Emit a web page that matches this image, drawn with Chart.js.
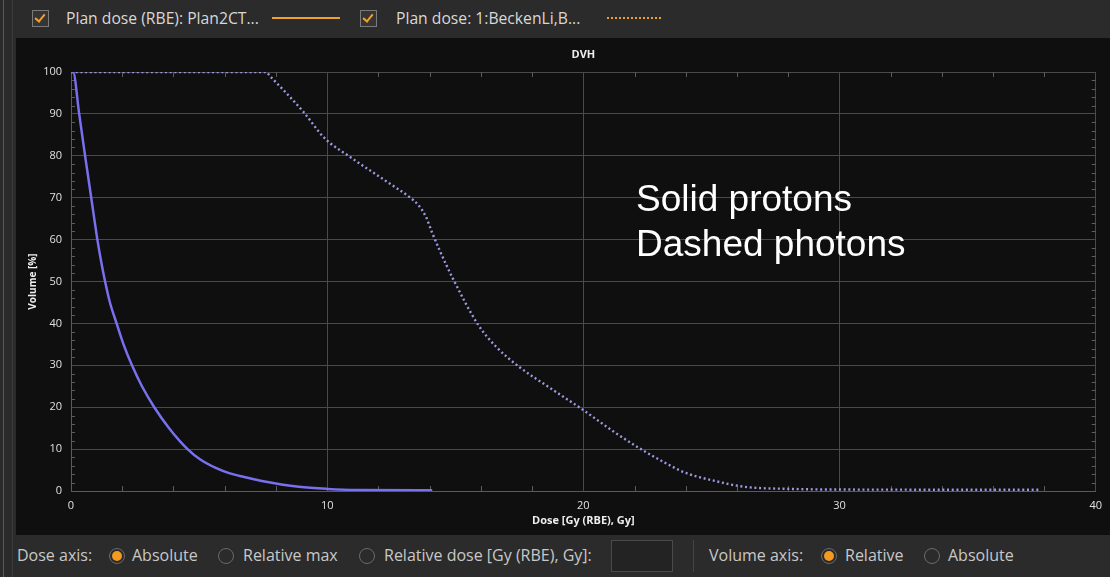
<!DOCTYPE html>
<html>
<head>
<meta charset="utf-8">
<script src="https://cdn.jsdelivr.net/npm/chart.js@4"></script>
<style>
  body { margin: 0; width: 1110px; height: 577px; overflow: hidden; position: relative;
         background: #2b2b2b; font-family: "Open Sans", sans-serif; }
  .abs { position: absolute; }
  .strip1 { left: 3px; top: 0; width: 1px; height: 577px; background: #5a5a5a; }
  .strip2 { left: 12px; top: 0; width: 1px; height: 577px; background: #3c3c3c; }
  #panel { left: 16px; top: 38px; width: 1094px; height: 497px; background: #0f0f0f; }
  .lbl { color: #d8d8d8; font-size: 15.7px; white-space: nowrap; }
  .blbl { color: #c8c8c8; font-size: 16px; white-space: nowrap; }
  .chk { width: 15px; height: 15px; border: 1px solid #7a7a7a; background: #353535; }
  .chk::after { content: ""; position: absolute; left: 4px; top: 1px; width: 4px; height: 8px;
                border: solid #f0a030; border-width: 0 2px 2px 0; transform: rotate(40deg); }
  .radio { width: 14px; height: 14px; border: 1px solid #6a6a6a; border-radius: 50%; background: #2b2b2b; }
  .radio.on::after { content: ""; position: absolute; left: 2px; top: 2px; width: 10px; height: 10px;
                     border-radius: 50%; background: #f39a1e; }
  #note { left: 636px; top: 176px; color: #fff; font-family: "Liberation Sans", Arial, sans-serif;
          font-size: 37px; line-height: 45px; white-space: nowrap; }
</style>
</head>
<body>
<div class="abs strip1"></div>
<div class="abs strip2"></div>

<!-- barra superior -->
<div class="abs chk" style="left:32px;top:10px"></div>
<div class="abs lbl" id="leg1" style="left:66px;top:7px"></div>
<div class="abs" style="left:272px;top:17px;width:68px;height:2px;background:#f0a030"></div>
<div class="abs chk" style="left:360px;top:10px"></div>
<div class="abs lbl" id="leg2" style="left:396px;top:7px"></div>
<div class="abs" style="left:607px;top:17px;width:54px;height:0;border-top:2px dotted #f0a030"></div>

<div class="abs" id="panel"><canvas id="dvh" width="1094" height="497"></canvas></div>
<div class="abs" id="note">Solid protons<br>Dashed photons</div>

<!-- barra inferior -->
<div class="abs blbl" style="left:17px;top:544px">Dose axis:</div>
<div class="abs radio on" style="left:109px;top:548px"></div>
<div class="abs blbl" style="left:132px;top:544px">Absolute</div>
<div class="abs radio" style="left:218px;top:548px"></div>
<div class="abs blbl" style="left:243px;top:544px">Relative max</div>
<div class="abs radio" style="left:359px;top:548px"></div>
<div class="abs blbl" style="left:384px;top:544px">Relative dose [Gy (RBE), Gy]:</div>
<div class="abs" style="left:611px;top:540px;width:60px;height:30px;background:#232323;border:1px solid #4a4a4a"></div>
<div class="abs" style="left:693px;top:540px;width:1px;height:32px;background:#444"></div>
<div class="abs blbl" style="left:709px;top:544px">Volume axis:</div>
<div class="abs radio on" style="left:821px;top:548px"></div>
<div class="abs blbl" style="left:845px;top:544px">Relative</div>
<div class="abs radio" style="left:924px;top:548px"></div>
<div class="abs blbl" style="left:948px;top:544px">Absolute</div>

<script>
// Nombres de las series
const seriesNames = ["Plan dose (RBE): Plan2CT...", "Plan dose: 1:BeckenLi,B..."];

// Protones (línea continua): dosis [Gy] y volumen [%]
const protonDose   = [0, 0.08, 0.32, 0.55, 0.79, 1.03, 1.17, 1.33, 1.52, 1.78, 2.05, 2.38, 2.77, 3.25, 3.83, 4.55, 5.05, 5.65, 6.2, 6.8, 7.45, 8.9, 10, 11.2, 14.1];
const protonVolume = [100, 100, 90, 80, 70, 60, 55, 50, 45, 40, 35, 30, 25, 20, 15, 10, 7.5, 5.5, 4.2, 3.3, 2.4, 1.0, 0.5, 0.25, 0.2];

// Fotones (línea punteada)
const photonDose   = [0, 7.6, 7.8, 9.07, 9.9, 10.9, 12.36, 13.2, 13.55, 13.85, 14.1, 14.4, 14.9, 15.9, 16.6, 17.5, 18.7, 20.0, 21.2, 22.3, 23.2, 24.0, 25.0, 26.3, 28.1, 30, 37.8];
const photonVolume = [100, 100, 98.8, 90.5, 84.2, 79.7, 73.7, 70.2, 68.3, 65.5, 61.6, 57.3, 50.8, 39.6, 34.4, 29.6, 24.6, 19.3, 14.1, 9.8, 6.7, 4.3, 2.6, 1.0, 0.5, 0.35, 0.3];

document.getElementById("leg1").textContent = seriesNames[0];
document.getElementById("leg2").textContent = seriesNames[1];

const toPoints = (xs, ys) => xs.map((x, i) => ({ x: x, y: ys[i] }));

// marcas menores dentro del área del gráfico
const minorTicks = {
  id: "minorTicks",
  beforeDatasetsDraw(chart) {
    const { ctx, chartArea: a, scales } = chart;
    ctx.save();
    ctx.strokeStyle = "#5c5c5c";
    ctx.lineWidth = 1;
    ctx.beginPath();
    scales.x.ticks.forEach(t => {
      if (t.value % 10 === 0) return;
      const px = Math.round(scales.x.getPixelForValue(t.value)) + 0.5;
      ctx.moveTo(px, a.bottom); ctx.lineTo(px, a.bottom - 5);
      ctx.moveTo(px, a.top); ctx.lineTo(px, a.top + 5);
    });
    scales.y.ticks.forEach(t => {
      if (t.value % 10 === 0) return;
      const py = Math.round(scales.y.getPixelForValue(t.value)) + 0.5;
      ctx.moveTo(a.left, py); ctx.lineTo(a.left + 4, py);
      ctx.moveTo(a.right, py); ctx.lineTo(a.right - 4, py);
    });
    ctx.stroke();
    ctx.restore();
  }
};

const tickFont = { family: "Open Sans", size: 11 };

new Chart(document.getElementById("dvh").getContext("2d"), {
  type: "line",
  data: {
    datasets: [{
      label: seriesNames[0],
      data: toPoints(protonDose, protonVolume),
      borderColor: "#7870ee",
      borderWidth: 2.5,
      pointRadius: 0,
      cubicInterpolationMode: "monotone"
    }, {
      label: seriesNames[1],
      data: toPoints(photonDose, photonVolume),
      borderColor: "#9a9ae0",
      borderWidth: 2.4,
      borderDash: [2, 2.7],
      pointRadius: 0,
      cubicInterpolationMode: "monotone"
    }]
  },
  options: {
    responsive: false,
    animation: false,
    devicePixelRatio: 1,
    layout: { padding: { left: 0, right: 7, top: 0, bottom: 0 } },
    plugins: {
      legend: { display: false },
      tooltip: { enabled: false },
      title: {
        display: true,
        text: "DVH",
        fullSize: false,
        color: "#eeeeee",
        font: { family: "Open Sans", size: 11, weight: "bold" },
        padding: { top: 10, bottom: 10.8 }
      }
    },
    scales: {
      x: {
        type: "linear",
        min: 0, max: 40,
        afterFit: s => { s.height = 44; },
        ticks: {
          stepSize: 2, autoSkip: false, maxRotation: 0,
          callback: v => (v % 10 === 0 ? v : ""),
          color: "#e0e0e0", font: tickFont, padding: 8
        },
        grid: { color: c => (c.tick && c.tick.value % 10 === 0 ? "#4a4a4a" : "transparent"), drawTicks: false },
        border: { color: "#5a5a5a" },
        title: {
          display: true, text: "Dose [Gy (RBE), Gy]", color: "#eeeeee",
          font: { family: "Open Sans", size: 11, weight: "bold" },
          padding: { top: 0, bottom: 8 }
        }
      },
      y: {
        min: 0, max: 100,
        afterFit: s => { s.width = 55; },
        ticks: {
          stepSize: 2, autoSkip: false,
          callback: v => (v % 10 === 0 ? v : ""),
          color: "#e0e0e0", font: tickFont, padding: 9
        },
        grid: { color: c => (c.tick && c.tick.value % 10 === 0 ? "#4a4a4a" : "transparent"), drawTicks: false },
        border: { color: "#5a5a5a" },
        title: {
          display: true, text: "Volume [%]", color: "#eeeeee",
          font: { family: "Open Sans", size: 10, weight: "bold" },
          padding: { top: 11, bottom: 0 }
        }
      }
    }
  },
  plugins: [minorTicks]
});
</script>
</body>
</html>
